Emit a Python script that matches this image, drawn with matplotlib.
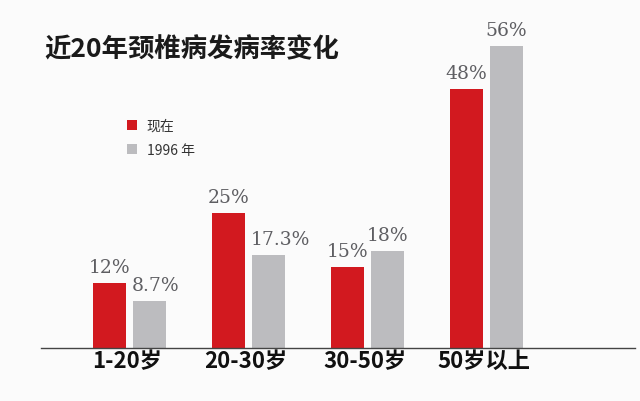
import matplotlib
matplotlib.use("Agg")
import matplotlib.pyplot as plt
from matplotlib.patches import Patch
import numpy as np

categories = ["1-20岁", "20-30岁", "30-50岁", "50岁以上"]
now_vals = [12, 25, 15, 48]
old_vals = [8.7, 17.3, 18, 56]
now_labels = ["12%", "25%", "15%", "48%"]
old_labels = ["8.7%", "17.3%", "18%", "56%"]
series_names = ["现在", "1996 年"]
title = "近20年颈椎病发病率变化"

RED = "#d2191f"
GRAY = "#bcbcbf"
BG = "#fbfbfb"

plt.rcParams['font.family'] = ['Noto Sans CJK SC', 'DejaVu Sans']

W, H = 640, 402
fig = plt.figure(figsize=(6.4, 4.02), dpi=100, facecolor=BG)
base_y = 349
top_y = 20
ax = fig.add_axes([41 / W, (H - base_y) / H, (635 - 41) / W, (base_y - top_y) / H])
ax.set_facecolor(BG)

pitch = 119.0
ymax = (base_y - top_y) / 5.4
x = np.arange(len(categories))
bw = 33 / pitch
off = 20 / pitch

ax.bar(x - off, now_vals, width=bw, color=RED, zorder=2)
ax.bar(x + off, old_vals, width=bw, color=GRAY, zorder=2)

lab_kw = dict(va="bottom", family="DejaVu Serif", fontsize=13.5, color="#5e5e62")
gap = 7 / 5.4
for i in range(len(categories)):
    ax.text(x[i] - off, now_vals[i] + gap, now_labels[i], ha="center", **lab_kw)
    if len(old_labels[i]) > 3:
        ax.text(x[i] + off - bw / 2 - 1 / pitch, old_vals[i] + gap, old_labels[i], ha="left", **lab_kw)
    else:
        ax.text(x[i] + off, old_vals[i] + gap, old_labels[i], ha="center", **lab_kw)

ax.set_xlim((41 - 129.5) / pitch, (635 - 129.5) / pitch)
ax.set_ylim(0, ymax)
for s in ["top", "right", "left"]:
    ax.spines[s].set_visible(False)
ax.spines["bottom"].set_color("#444444")
ax.spines["bottom"].set_linewidth(1.0)
ax.set_yticks([])
ax.set_xticks(x - 0.02)
ax.set_xticklabels(categories, fontsize=16, fontweight="bold", color="#111111")
ax.tick_params(axis="x", length=0, pad=1)

fig.text(44 / W, 1 - 50 / H, title, fontsize=19, fontweight="bold", color="#1a1a1a", va="center", ha="left")

handles = [Patch(facecolor=RED, edgecolor="none"), Patch(facecolor=GRAY, edgecolor="none")]
leg = fig.legend(handles, series_names, loc="upper left", bbox_to_anchor=(114 / W, 1 - 107 / H),
                 frameon=False, handlelength=0.75, handleheight=0.75, handletextpad=0.7,
                 labelspacing=0.75, fontsize=10)
for t in leg.get_texts():
    t.set_color("#333333")

fig.savefig("out.png", dpi=100, facecolor=BG)
